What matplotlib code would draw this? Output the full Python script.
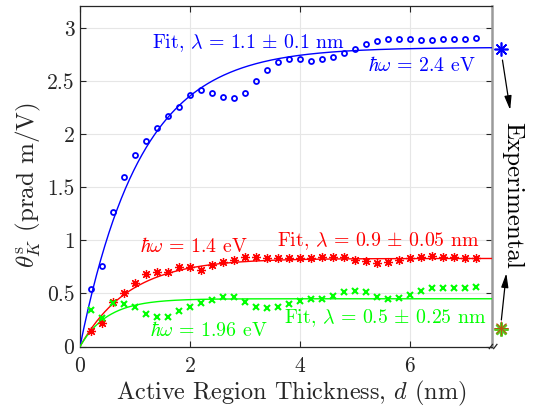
import numpy as np
import matplotlib
matplotlib.use("Agg")
import matplotlib.pyplot as plt

plt.rcParams['font.family'] = 'serif'
plt.rcParams['font.serif'] = ['cmr10', 'DejaVu Serif']
plt.rcParams['mathtext.fontset'] = 'cm'
plt.rcParams['axes.formatter.use_mathtext'] = True

# ---- data ----
d = [round(0.2 * i, 1) for i in range(1, 37)]  # 0.2 ... 7.2 nm

blue_24eV = [0.54, 0.76, 1.27, 1.60, 1.81, 1.94, 2.06, 2.17, 2.26, 2.37,
             2.42, 2.39, 2.35, 2.34, 2.39, 2.50, 2.61, 2.68, 2.71, 2.71,
             2.69, 2.71, 2.73, 2.77, 2.80, 2.85, 2.88, 2.90, 2.90, 2.90,
             2.89, 2.89, 2.90, 2.90, 2.90, 2.91]
red_14eV = [0.15, 0.22, 0.42, 0.50, 0.60, 0.68, 0.70, 0.70, 0.75, 0.745,
            0.725, 0.77, 0.80, 0.82, 0.84, 0.84, 0.83, 0.83, 0.83, 0.83,
            0.83, 0.84, 0.845, 0.84, 0.82, 0.81, 0.79, 0.80, 0.82, 0.83,
            0.84, 0.85, 0.845, 0.84, 0.83, 0.83]
green_196eV = [0.34, 0.27, 0.41, 0.40, 0.37, 0.31, 0.28, 0.28, 0.33, 0.37,
               0.41, 0.44, 0.47, 0.465, 0.42, 0.37, 0.36, 0.37, 0.40, 0.43,
               0.45, 0.45, 0.48, 0.51, 0.52, 0.51, 0.47, 0.45, 0.46, 0.49,
               0.52, 0.55, 0.55, 0.55, 0.55, 0.56]

# fit parameters (amplitude, decay length lambda in nm)
fit_blue = (2.82, 1.1)
fit_red = (0.83, 0.9)
fit_green = (0.45, 0.5)

# experimental values (placed beyond the axis break)
exp_x = 7.66
exp_blue = 2.80
exp_red = 0.17
exp_green = 0.165

xticks = [0, 2, 4, 6]
yticks = [0, 0.5, 1, 1.5, 2, 2.5, 3]
yticklabels = ['0', '0.5', '1', '1.5', '2', '2.5', '3']

BLUE = '#0000FF'
RED = '#FF0000'
GREEN = '#00FF00'
AXC = '#262626'

fig = plt.figure(figsize=(5.35, 4.11), dpi=100)
ax = fig.add_axes([80/535, (411-346.5)/411, (492-80)/535, (346.5-6)/411])

dd = np.linspace(0, 7.5, 400)
for (A, lam), c in [(fit_blue, BLUE), (fit_red, RED), (fit_green, GREEN)]:
    ax.plot(dd, A * (1 - np.exp(-dd / lam)), color=c, lw=1.0, zorder=3)

ax.plot(d, blue_24eV, linestyle='none', marker='o', ms=3.6, mfc='none',
        mec=BLUE, mew=1.3, zorder=4)
ax.plot(d, red_14eV, linestyle='none', marker=(8, 2, 0), ms=6.5,
        mec=RED, mew=0.9, zorder=4)
ax.plot(d, green_196eV, linestyle='none', marker='x', ms=4.5,
        mec=GREEN, mew=1.5, zorder=4)

# experimental markers
ax.plot([exp_x], [exp_blue], linestyle='none', marker=(8, 2, 0), ms=10,
        mec=BLUE, mew=1.2, clip_on=False, zorder=5)
ax.plot([exp_x], [exp_green], linestyle='none', marker=(8, 2, 0), ms=10,
        mec='#55cc22', mew=1.8, clip_on=False, zorder=5)
ax.plot([exp_x], [exp_red], linestyle='none', marker=(8, 2, 0), ms=10,
        mec=RED, mew=0.6, alpha=0.55, clip_on=False, zorder=6)

ax.set_xlim(0, 7.49)
ax.set_ylim(0, 3.21)
ax.set_xticks(xticks)
ax.set_yticks(yticks)
ax.set_yticklabels(yticklabels)
ax.tick_params(direction='in', length=4, width=0.8, labelsize=15.5,
               colors=AXC, top=True, right=True)
ax.tick_params(axis='x', pad=7)
ax.tick_params(axis='y', pad=4)
ax.grid(True, color='#e6e6e6', lw=0.8)
ax.set_axisbelow(True)
for s in ['left', 'top', 'bottom']:
    ax.spines[s].set_color(AXC)
    ax.spines[s].set_linewidth(0.9)
ax.spines['right'].set_color('#9a9a9a')
ax.spines['right'].set_linewidth(1.8)

ax.set_xlabel(r'Active Region Thickness, $d$ (nm)', fontsize=17.5, color=AXC)
ax.set_ylabel(r'$\theta_K^{\mathrm{s}}$ (prad m/V)', fontsize=18, color=AXC)
ax.xaxis.set_label_coords(0.512, -0.096)
ax.yaxis.set_label_coords(-0.09, 0.474)

fs = 14.3
ax.text(1.30, 2.86, r'Fit, $\lambda\,=\,1.1\,\pm\,0.1$ nm', color=BLUE, fontsize=fs, va='center', ha='left')
ax.text(5.24, 2.65, r'$\hbar\omega\,=\,2.4$ eV', color=BLUE, fontsize=fs, va='center', ha='left')
ax.text(1.09, 0.94, r'$\hbar\omega\,=\,1.4$ eV', color=RED, fontsize=fs, va='center', ha='left')
ax.text(7.27, 0.99, r'Fit, $\lambda\,=\,0.9\,\pm\,0.05$ nm', color=RED, fontsize=fs, va='center', ha='right')
ax.text(1.27, 0.154, r'$\hbar\omega\,=\,1.96$ eV', color=GREEN, fontsize=fs, va='center', ha='left')
ax.text(7.40, 0.27, r'Fit, $\lambda\,=\,0.5\,\pm\,0.25$ nm', color=GREEN, fontsize=fs, va='center', ha='right')

ax.text(7.86, 1.42, 'Experimental', rotation=-90, fontsize=18, va='center', ha='center',
        clip_on=False, color='black')

arrow = dict(arrowstyle='-|>,head_length=0.7,head_width=0.18', color='black',
             lw=0.9, mutation_scale=12, shrinkA=0, shrinkB=0)
ax.annotate('', xy=(7.82, 2.23), xytext=(7.68, 2.70), arrowprops=arrow,
            annotation_clip=False)
ax.annotate('', xy=(7.75, 0.69), xytext=(7.66, 0.25), arrowprops=arrow,
            annotation_clip=False)

# axis break marks
for off in (0.0, 0.08):
    ax.plot([7.44 + off, 7.50 + off], [-0.02, 0.02], color=AXC, lw=0.9,
            clip_on=False, zorder=6)

fig.savefig('out.png', dpi=100)
